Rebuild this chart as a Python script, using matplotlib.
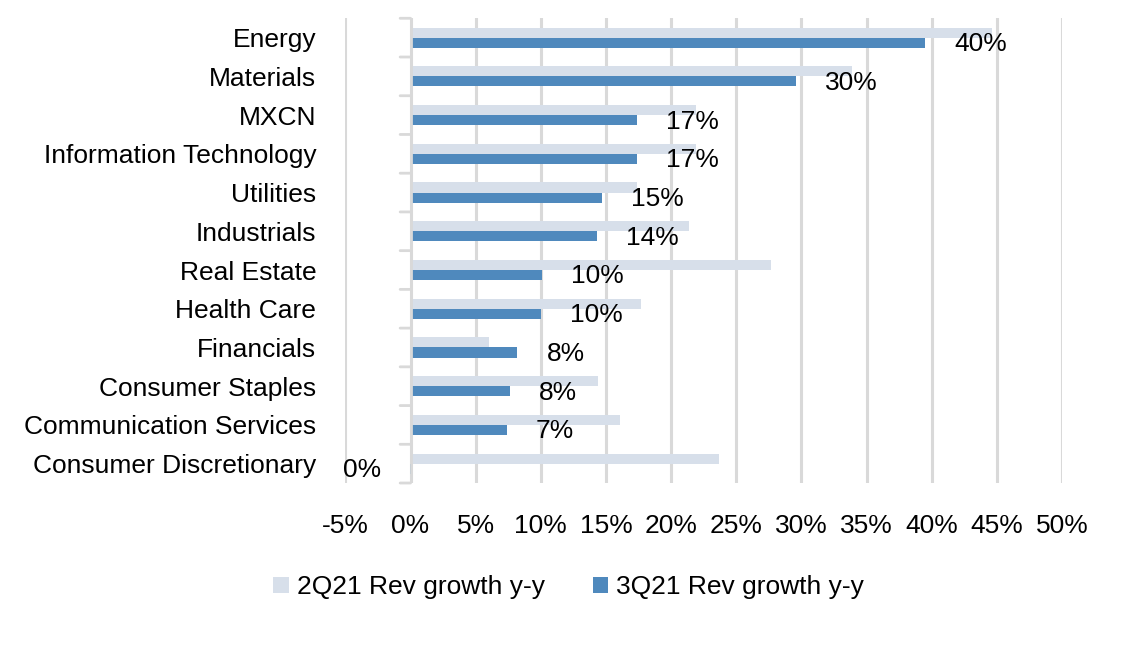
import matplotlib
matplotlib.use("Agg")
import matplotlib.pyplot as plt
from matplotlib.patches import Patch
from matplotlib.ticker import FixedLocator, FuncFormatter

categories = ["Energy", "Materials", "MXCN", "Information Technology", "Utilities",
              "Industrials", "Real Estate", "Health Care", "Financials",
              "Consumer Staples", "Communication Services", "Consumer Discretionary"]
rev_2q21 = [44.6, 33.9, 21.9, 21.9, 17.4, 21.4, 27.7, 17.7, 6.0, 14.4, 16.1, 23.7]
rev_3q21 = [39.5, 29.6, 17.4, 17.4, 14.7, 14.3, 10.1, 10.0, 8.2, 7.6, 7.4, -0.05]
series_names = ["2Q21 Rev growth y-y", "3Q21 Rev growth y-y"]
x_ticks = [-5, 0, 5, 10, 15, 20, 25, 30, 35, 40, 45, 50]

plt.rcParams["font.family"] = ["Liberation Sans", "DejaVu Sans"]
FS = 19

LIGHT = "#D7DFEA"
DARK = "#4F89BD"
GRID = "#D9D9D9"

fig = plt.figure(figsize=(11.24, 6.46), dpi=100)
ax = fig.add_axes([0.3073, 0.2523, 0.9448 - 0.3073, 0.9717 - 0.2523])

y = list(range(len(categories)))
bh = 0.26
ax.barh([i - bh / 2 for i in y], rev_2q21, height=bh, color=LIGHT, zorder=2)
ax.barh([i + bh / 2 for i in y], rev_3q21, height=bh, color=DARK, zorder=3)

for i, v in enumerate(rev_3q21):
    txt = f"{int(round(v))}%"
    off = 21 if v >= 0 else -21
    ax.annotate(txt, xy=(v, i + bh / 2), xytext=(off, -1), textcoords="offset points",
                ha="left" if v >= 0 else "right", va="center", fontsize=FS,
                color="black", zorder=5)

ax.set_xlim(-5, 50)
ax.set_ylim(len(categories) - 0.5, -0.5)
for s in ax.spines.values():
    s.set_visible(False)

ax.xaxis.set_major_locator(FixedLocator(x_ticks))
ax.xaxis.set_major_formatter(FuncFormatter(lambda v, p: f"{int(v)}%"))
ax.grid(axis="x", color=GRID, linewidth=2.2, zorder=0)
ax.tick_params(axis="x", length=0, pad=22, labelsize=FS)

ax.axvline(0, color=GRID, linewidth=2.0, zorder=4)
ax.set_yticks(y)
ax.set_yticklabels(categories)
ax.tick_params(axis="y", which="major", length=0, pad=21, labelsize=FS)
for b in [i - 0.5 for i in range(len(categories) + 1)]:
    ax.annotate("", xy=(0, b), xytext=(-7.5, 0), textcoords="offset points",
                xycoords="data", arrowprops=dict(arrowstyle="-", color=GRID, lw=2.0,
                                                  shrinkA=0, shrinkB=0))

handles = [Patch(facecolor=LIGHT, edgecolor="none"), Patch(facecolor=DARK, edgecolor="none")]
fig.legend(handles, series_names, loc="center", bbox_to_anchor=(0.506, 0.091),
           ncol=2, frameon=False, fontsize=FS, handlelength=0.6, handleheight=0.6,
           handletextpad=0.3, columnspacing=1.8)

fig.savefig("out.png", dpi=100)
